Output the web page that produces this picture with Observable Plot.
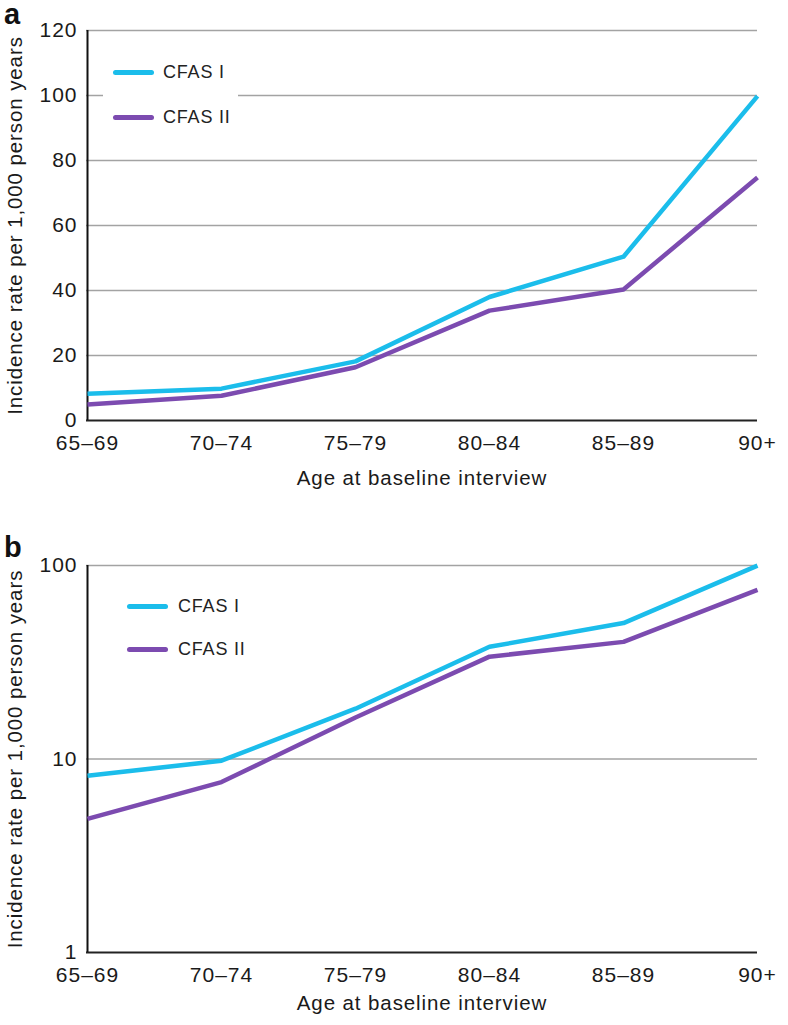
<!DOCTYPE html>
<html>
<head>
<meta charset="utf-8">
<script src="https://cdn.jsdelivr.net/npm/d3@7"></script>
<script src="https://cdn.jsdelivr.net/npm/@observablehq/plot@0.6"></script>
<style>
  html, body { margin: 0; padding: 0; background: #fff; }
  body { width: 788px; height: 1025px; overflow: hidden; font-family: "Liberation Sans", Arial, sans-serif; }
  #wrap { position: relative; width: 788px; height: 1025px; }
  .panel { position: absolute; left: 0; }
  .plabel { position: absolute; font-weight: bold; font-size: 29px; line-height: 1; color: #111; }
  .legend { position: absolute; background: #fff; font-size: 18px; letter-spacing: 0.8px; color: #222; }
  .legend .row { position: absolute; left: 0; white-space: nowrap; height: 20px; }
  .legend .sw { position: absolute; width: 41px; height: 5px; border-radius: 3px; top: 8px; }
  .legend .tx { position: absolute; top: 0px; line-height: 20px; }
</style>
</head>
<body>
<div id="wrap"></div>
<script>
const ageGroups = ["65–69", "70–74", "75–79", "80–84", "85–89", "90+"];
const seriesNames = ["CFAS I", "CFAS II"];
const cfas1 = [8.2, 9.8, 18.2, 38.0, 50.4, 99.8];
const cfas2 = [4.9, 7.6, 16.4, 33.8, 40.3, 74.8];
const colors = ["#1bbdeb", "#7c4bb0"];
const linearTicks = [0, 20, 40, 60, 80, 100, 120];
const logTicks = [1, 10, 100];
const yTitle = "Incidence rate per 1,000 person years";
const xTitle = "Age at baseline interview";

const rows = [];
[cfas1, cfas2].forEach((vals, s) => vals.forEach((v, i) => rows.push({age: ageGroups[i], series: seriesNames[s], value: v})));

function makePanel(opts) {
  const {top, height, marginBottom, yScale, grid, baseline, labelOffsetX} = opts;
  const plot = Plot.plot({
    width: 788,
    height,
    marginTop: 30,
    marginLeft: 86,
    marginRight: 31,
    marginBottom,
    style: {fontFamily: "Liberation Sans, Arial, sans-serif", fontSize: "21px", color: "#1a1a1a", background: "transparent"},
    x: {type: "point", domain: ageGroups, padding: 0},
    y: yScale,
    color: {domain: seriesNames, range: colors},
    marks: [
      Plot.gridY(grid, {stroke: "#a3a3a3", strokeOpacity: 1, strokeWidth: 1.6}),
      Plot.axisX({tickSize: 0, tickPadding: 15, fontSize: 21, label: xTitle, labelAnchor: "center", labelOffset: labelOffsetX, labelArrow: "none"}),
      Plot.axisY(yScale.ticks, {tickSize: 0, tickPadding: 9, fontSize: 21, tickFormat: d => String(d), label: yTitle, labelAnchor: "center", labelOffset: 79, labelArrow: "none"}),
      Plot.ruleY([baseline], {stroke: "#222", strokeWidth: 2}),
      Plot.ruleX([ageGroups[0]], {stroke: "#111", strokeWidth: 2}),
      Plot.line(rows, {x: "age", y: "value", z: "series", stroke: "series", strokeWidth: 4.5, strokeLinejoin: "round", strokeLinecap: "butt"})
    ]
  });
  const svg = d3.select(plot);
  svg.selectAll('[aria-label="x-axis tick label"] text, [aria-label="y-axis tick label"] text')
    .style("font-size", "21px").style("letter-spacing", "1px");
  svg.selectAll('[aria-label="x-axis label"] text, [aria-label="y-axis label"] text')
    .style("font-size", "20.5px").style("letter-spacing", "0.9px");
  plot.classList.add("panel");
  plot.style.top = top + "px";
  plot.style.position = "absolute";
  return plot;
}

const wrap = document.getElementById("wrap");

wrap.appendChild(makePanel({
  top: 0, height: 500, marginBottom: 80,
  yScale: {domain: [0, 120], ticks: linearTicks},
  grid: [20, 40, 60, 80, 100, 120], baseline: 0, labelOffsetX: 64
}));
wrap.appendChild(makePanel({
  top: 535, height: 490, marginBottom: 73,
  yScale: {type: "log", domain: [1, 100], ticks: logTicks},
  grid: [10, 100], baseline: 1, labelOffsetX: 57
}));

function addLegend(left, top, width, height, swLeft, rowTops, txLeft) {
  const lg = document.createElement("div");
  lg.className = "legend";
  lg.style.left = left + "px"; lg.style.top = top + "px";
  lg.style.width = width + "px"; lg.style.height = height + "px";
  seriesNames.forEach((name, i) => {
    const r = document.createElement("div");
    r.className = "row";
    r.style.top = rowTops[i] + "px";
    r.innerHTML = `<div class="sw" style="left:${swLeft}px;background:${colors[i]}"></div><div class="tx" style="left:${txLeft}px">${name}</div>`;
    lg.appendChild(r);
  });
  wrap.appendChild(lg);
}
addLegend(103, 50, 135, 84, 10, [12, 57], 60);
addLegend(117, 585, 135, 84, 10, [11, 54], 61);

function addPanelLabel(txt, left, top) {
  const d = document.createElement("div");
  d.className = "plabel";
  d.textContent = txt;
  d.style.left = left + "px"; d.style.top = top + "px";
  wrap.appendChild(d);
}
addPanelLabel("a", 4, 0);
addPanelLabel("b", 4, 533);
</script>
</body>
</html>
